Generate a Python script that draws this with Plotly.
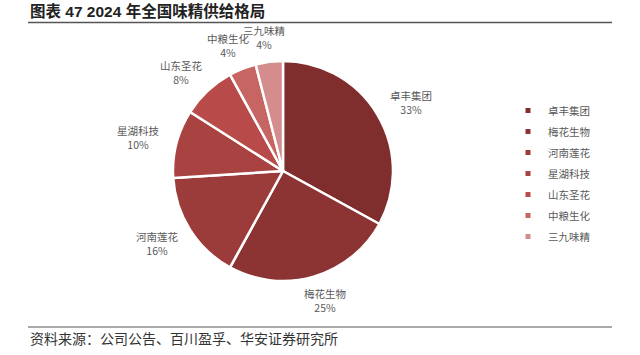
import math
import plotly.graph_objects as go

labels = ["卓丰集团", "梅花生物", "河南莲花", "星湖科技", "山东圣花", "中粮生化", "三九味精"]
values = [33, 25, 16, 10, 8, 4, 4]
colors = ["#7f2e2d", "#8c3433", "#9b3c3b", "#a94341", "#b84b49", "#c76563", "#d48d8c"]
title = "图表 47 2024 年全国味精供给格局"
source = "资料来源：公司公告、百川盈孚、华安证券研究所"

W, H = 640, 355
cx_px, cy_px, R = 283, 171, 110
cx, cy = cx_px / W, 1 - cy_px / H

fig = go.Figure()
fig.add_trace(go.Pie(
    labels=labels, values=values, sort=False, direction="clockwise", rotation=0,
    marker=dict(colors=colors, line=dict(color="#ffffff", width=2.5)),
    textinfo="none", hoverinfo="label+percent", showlegend=False,
    domain=dict(x=[(cx_px - R) / W, (cx_px + R) / W], y=[1 - (cy_px + R) / H, 1 - (cy_px - R) / H]),
))

total = sum(values)
cum = 0
font_cjk = "Noto Sans CJK SC"
box_w, box_h = 56, 28
for lab, v in zip(labels, values):
    mid = (cum + v / 2) / total * 2 * math.pi
    cum += v
    s, c = math.sin(mid), math.cos(mid)
    rr = R * 1.1
    fig.add_annotation(x=cx + rr * s / W, y=cy + rr * c / H, xref="paper", yref="paper",
                       showarrow=False, xanchor="center", yanchor="middle",
                       xshift=s * box_w / 2, yshift=c * box_h / 2,
                       text=f"{lab}<br>{round(v / total * 100)}%", align="center",
                       font=dict(family=f"{font_cjk}, Liberation Sans", size=10.5, color="#595959"))

for i, (lab, col) in enumerate(zip(labels, colors)):
    fig.add_trace(go.Scatter(x=[None], y=[None], mode="markers", name=lab, legendgroup=f"g{i}",
                             marker=dict(symbol="square", size=5, color=col), showlegend=True))

fig.add_annotation(x=28 / W, y=1 - 11 / H, xref="paper", yref="paper", showarrow=False,
                   xanchor="left", yanchor="middle", text=f"<b>{title}</b>",
                   font=dict(family=f"Liberation Sans, {font_cjk}", size=15.5, color="#222222"))
fig.add_annotation(x=28 / W, y=1 - 338 / H, xref="paper", yref="paper", showarrow=False,
                   xanchor="left", yanchor="middle", text=source,
                   font=dict(family=font_cjk, size=14, color="#333333"))
fig.add_shape(type="line", xref="paper", yref="paper", x0=28 / W, x1=612 / W,
              y0=1 - 22.5 / H, y1=1 - 22.5 / H, line=dict(color="#555555", width=1.5))
fig.add_shape(type="line", xref="paper", yref="paper", x0=28 / W, x1=612 / W,
              y0=1 - 327 / H, y1=1 - 327 / H, line=dict(color="#555555", width=1))

fig.update_layout(
    width=W, height=H, margin=dict(l=0, r=0, t=0, b=0),
    paper_bgcolor="white", plot_bgcolor="white",
    xaxis=dict(visible=False), yaxis=dict(visible=False),
    legend=dict(x=508 / W, y=1 - 96 / H, xanchor="left", yanchor="top",
                font=dict(family=font_cjk, size=10.5, color="#595959"),
                itemwidth=30, tracegroupgap=2, bgcolor="rgba(0,0,0,0)"),
)
fig.write_html("out.html")
